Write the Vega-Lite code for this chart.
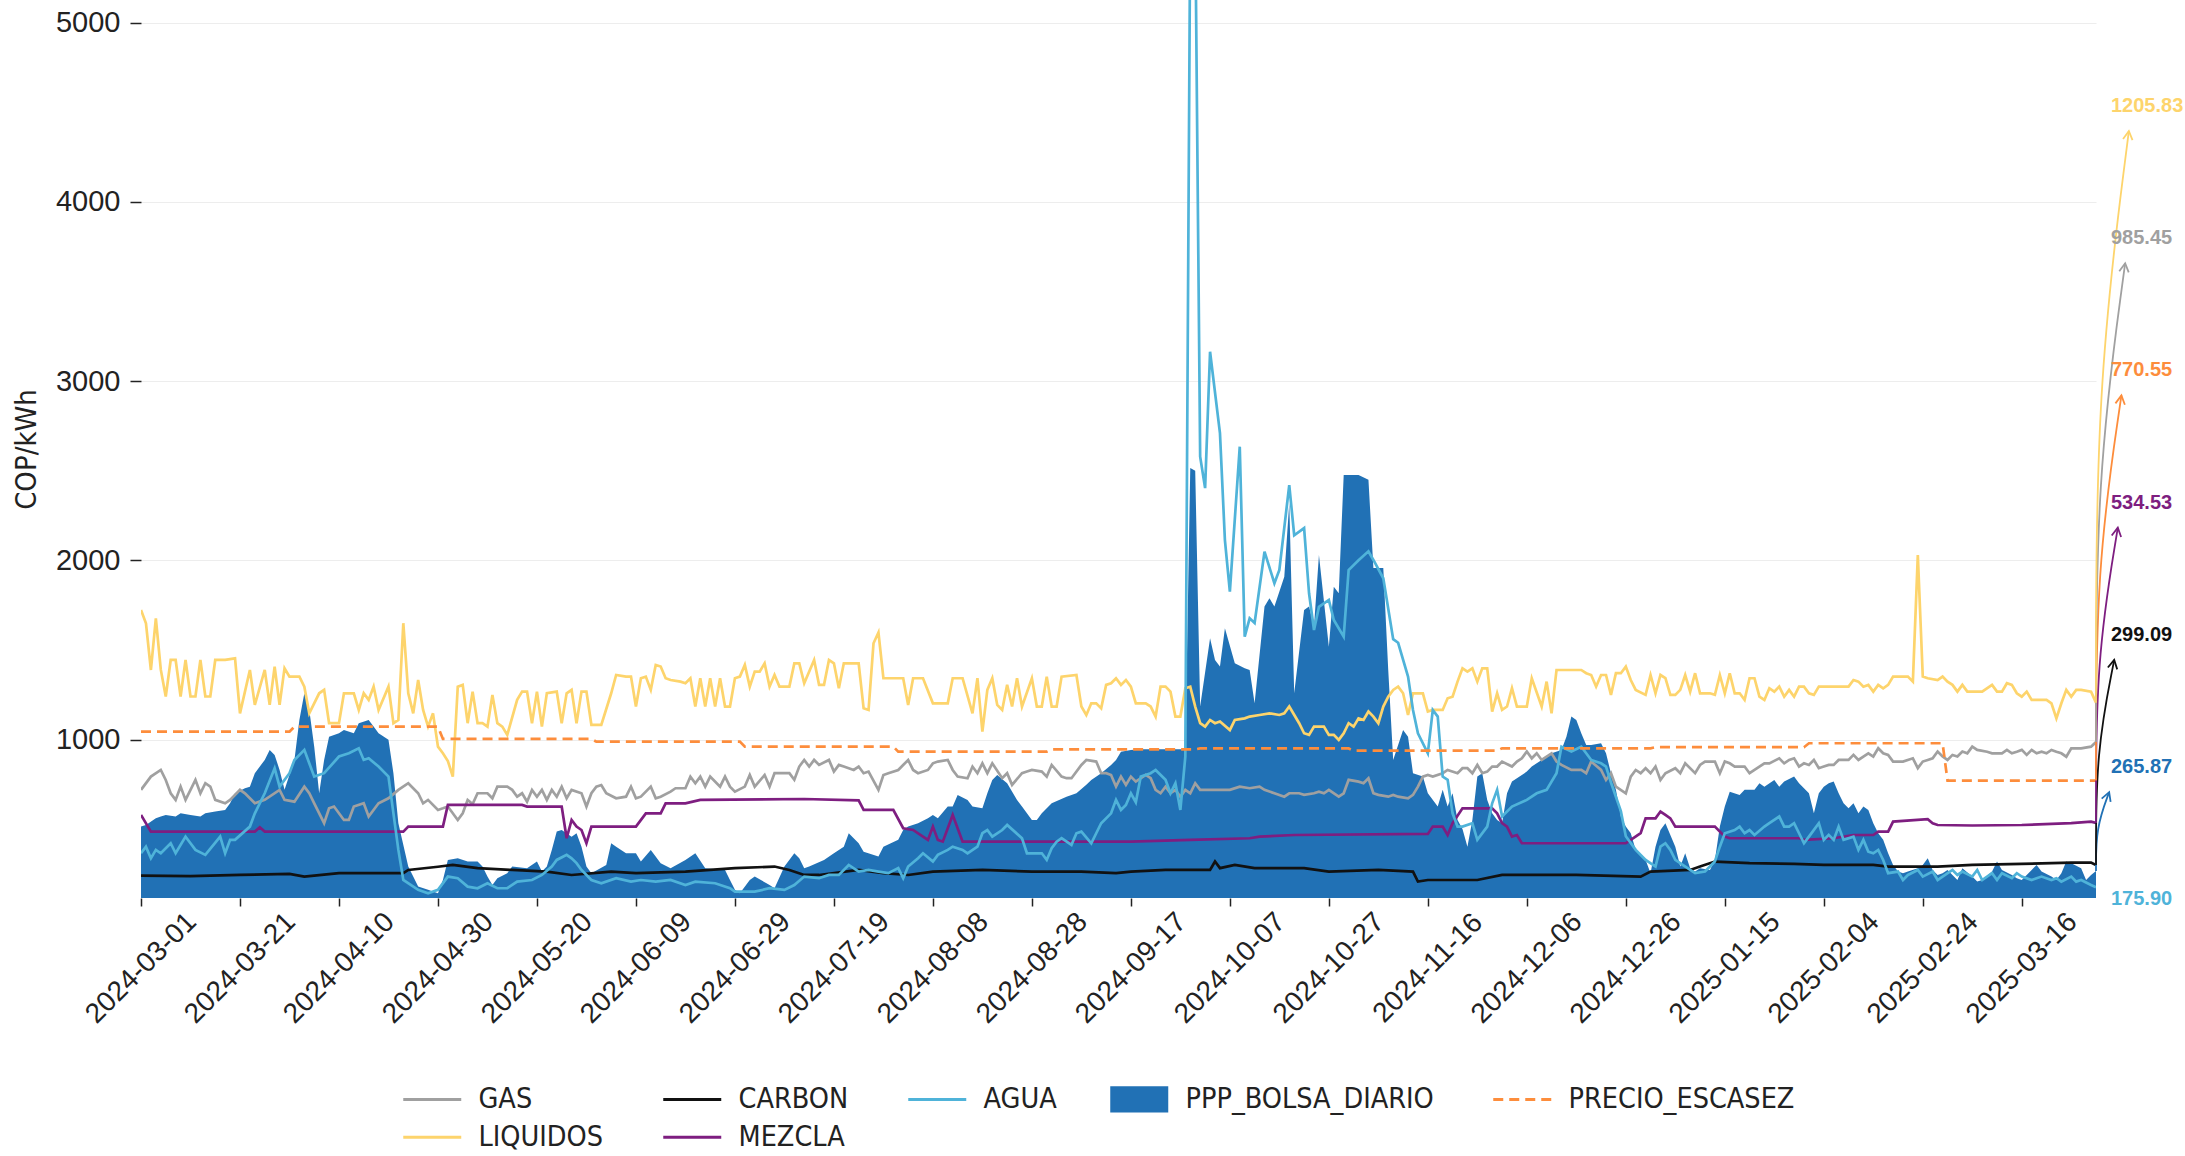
{
"$schema":"https://vega.github.io/schema/vega-lite/v6.json",
"width":1955,"height":898,
"autosize":{"type":"none"},
"padding":{"left":141,"top":0,"right":89,"bottom":258},
"background":"white",
"config":{"view":{"stroke":null},"font":"Liberation Sans"},
"datasets":{
"ppp":[{"d":"2024-03-01","v":514},{"d":"2024-03-02","v":523},{"d":"2024-03-04","v":560},{"d":"2024-03-05","v":570},{"d":"2024-03-06","v":579},{"d":"2024-03-08","v":570},{"d":"2024-03-09","v":588},{"d":"2024-03-11","v":579},{"d":"2024-03-13","v":570},{"d":"2024-03-14","v":588},{"d":"2024-03-16","v":598},{"d":"2024-03-18","v":607},{"d":"2024-03-19","v":644},{"d":"2024-03-20","v":700},{"d":"2024-03-22","v":728},{"d":"2024-03-23","v":737},{"d":"2024-03-24","v":812},{"d":"2024-03-26","v":886},{"d":"2024-03-27","v":942},{"d":"2024-03-28","v":914},{"d":"2024-03-29","v":830},{"d":"2024-03-30","v":719},{"d":"2024-04-01","v":886},{"d":"2024-04-02","v":1109},{"d":"2024-04-03","v":1258},{"d":"2024-04-04","v":1165},{"d":"2024-04-05","v":960},{"d":"2024-04-06","v":700},{"d":"2024-04-07","v":886},{"d":"2024-04-08","v":1016},{"d":"2024-04-10","v":1035},{"d":"2024-04-11","v":1053},{"d":"2024-04-13","v":1035},{"d":"2024-04-14","v":1091},{"d":"2024-04-16","v":1109},{"d":"2024-04-17","v":1072},{"d":"2024-04-18","v":1035},{"d":"2024-04-20","v":998},{"d":"2024-04-21","v":812},{"d":"2024-04-22","v":533},{"d":"2024-04-24","v":291},{"d":"2024-04-26","v":179},{"d":"2024-04-28","v":161},{"d":"2024-04-30","v":142},{"d":"2024-05-01","v":216},{"d":"2024-05-02","v":328},{"d":"2024-05-04","v":337},{"d":"2024-05-06","v":319},{"d":"2024-05-08","v":319},{"d":"2024-05-09","v":291},{"d":"2024-05-10","v":235},{"d":"2024-05-11","v":188},{"d":"2024-05-12","v":226},{"d":"2024-05-14","v":254},{"d":"2024-05-15","v":291},{"d":"2024-05-18","v":282},{"d":"2024-05-20","v":319},{"d":"2024-05-21","v":263},{"d":"2024-05-22","v":291},{"d":"2024-05-23","v":384},{"d":"2024-05-24","v":486},{"d":"2024-05-25","v":495},{"d":"2024-05-27","v":458},{"d":"2024-05-28","v":477},{"d":"2024-05-29","v":402},{"d":"2024-05-30","v":291},{"d":"2024-05-31","v":254},{"d":"2024-06-03","v":300},{"d":"2024-06-04","v":421},{"d":"2024-06-05","v":402},{"d":"2024-06-07","v":365},{"d":"2024-06-09","v":365},{"d":"2024-06-10","v":319},{"d":"2024-06-12","v":384},{"d":"2024-06-14","v":310},{"d":"2024-06-16","v":282},{"d":"2024-06-19","v":328},{"d":"2024-06-21","v":365},{"d":"2024-06-23","v":282},{"d":"2024-06-27","v":272},{"d":"2024-06-28","v":216},{"d":"2024-06-29","v":161},{"d":"2024-06-30","v":142},{"d":"2024-07-02","v":216},{"d":"2024-07-03","v":235},{"d":"2024-07-06","v":188},{"d":"2024-07-07","v":170},{"d":"2024-07-09","v":291},{"d":"2024-07-11","v":365},{"d":"2024-07-12","v":337},{"d":"2024-07-13","v":282},{"d":"2024-07-14","v":291},{"d":"2024-07-17","v":328},{"d":"2024-07-19","v":365},{"d":"2024-07-21","v":402},{"d":"2024-07-22","v":477},{"d":"2024-07-24","v":421},{"d":"2024-07-25","v":374},{"d":"2024-07-28","v":347},{"d":"2024-07-29","v":402},{"d":"2024-08-01","v":440},{"d":"2024-08-02","v":495},{"d":"2024-08-03","v":514},{"d":"2024-08-05","v":533},{"d":"2024-08-07","v":560},{"d":"2024-08-08","v":579},{"d":"2024-08-09","v":560},{"d":"2024-08-11","v":626},{"d":"2024-08-12","v":626},{"d":"2024-08-13","v":691},{"d":"2024-08-15","v":663},{"d":"2024-08-16","v":626},{"d":"2024-08-18","v":616},{"d":"2024-08-19","v":700},{"d":"2024-08-20","v":774},{"d":"2024-08-21","v":802},{"d":"2024-08-23","v":756},{"d":"2024-08-25","v":663},{"d":"2024-08-26","v":626},{"d":"2024-08-28","v":551},{"d":"2024-08-29","v":551},{"d":"2024-08-30","v":588},{"d":"2024-09-01","v":644},{"d":"2024-09-04","v":681},{"d":"2024-09-06","v":700},{"d":"2024-09-08","v":747},{"d":"2024-09-09","v":774},{"d":"2024-09-11","v":812},{"d":"2024-09-13","v":858},{"d":"2024-09-14","v":886},{"d":"2024-09-15","v":932},{"d":"2024-09-17","v":942},{"d":"2024-09-19","v":945},{"d":"2024-09-21","v":945},{"d":"2024-09-24","v":945},{"d":"2024-09-28","v":945},{"d":"2024-09-29","v":2515},{"d":"2024-09-30","v":2500},{"d":"2024-10-01","v":1184},{"d":"2024-10-03","v":1565},{"d":"2024-10-04","v":1444},{"d":"2024-10-05","v":1407},{"d":"2024-10-06","v":1621},{"d":"2024-10-08","v":1425},{"d":"2024-10-10","v":1397},{"d":"2024-10-11","v":1388},{"d":"2024-10-12","v":1202},{"d":"2024-10-14","v":1742},{"d":"2024-10-15","v":1788},{"d":"2024-10-16","v":1742},{"d":"2024-10-18","v":1909},{"d":"2024-10-19","v":2320},{"d":"2024-10-20","v":1258},{"d":"2024-10-22","v":1723},{"d":"2024-10-23","v":1742},{"d":"2024-10-24","v":1630},{"d":"2024-10-25","v":2030},{"d":"2024-10-27","v":1518},{"d":"2024-10-28","v":1853},{"d":"2024-10-29","v":1816},{"d":"2024-10-30","v":2476},{"d":"2024-11-02","v":2476},{"d":"2024-11-04","v":2450},{"d":"2024-11-05","v":1957},{"d":"2024-11-07","v":1957},{"d":"2024-11-08","v":1388},{"d":"2024-11-09","v":886},{"d":"2024-11-11","v":1053},{"d":"2024-11-12","v":1016},{"d":"2024-11-13","v":812},{"d":"2024-11-15","v":793},{"d":"2024-11-16","v":700},{"d":"2024-11-18","v":626},{"d":"2024-11-19","v":719},{"d":"2024-11-20","v":626},{"d":"2024-11-21","v":700},{"d":"2024-11-22","v":551},{"d":"2024-11-23","v":500},{"d":"2024-11-24","v":402},{"d":"2024-11-25","v":551},{"d":"2024-11-26","v":793},{"d":"2024-11-27","v":812},{"d":"2024-11-28","v":663},{"d":"2024-11-29","v":588},{"d":"2024-11-30","v":551},{"d":"2024-12-01","v":533},{"d":"2024-12-02","v":700},{"d":"2024-12-03","v":765},{"d":"2024-12-05","v":802},{"d":"2024-12-06","v":821},{"d":"2024-12-07","v":849},{"d":"2024-12-09","v":886},{"d":"2024-12-10","v":905},{"d":"2024-12-11","v":923},{"d":"2024-12-13","v":942},{"d":"2024-12-14","v":1016},{"d":"2024-12-15","v":1128},{"d":"2024-12-16","v":1109},{"d":"2024-12-17","v":1035},{"d":"2024-12-18","v":970},{"d":"2024-12-19","v":970},{"d":"2024-12-21","v":979},{"d":"2024-12-22","v":923},{"d":"2024-12-23","v":812},{"d":"2024-12-24","v":719},{"d":"2024-12-25","v":570},{"d":"2024-12-26","v":514},{"d":"2024-12-27","v":477},{"d":"2024-12-28","v":384},{"d":"2024-12-30","v":328},{"d":"2024-12-31","v":254},{"d":"2025-01-01","v":402},{"d":"2025-01-02","v":495},{"d":"2025-01-03","v":533},{"d":"2025-01-05","v":402},{"d":"2025-01-06","v":291},{"d":"2025-01-07","v":365},{"d":"2025-01-08","v":282},{"d":"2025-01-09","v":263},{"d":"2025-01-10","v":282},{"d":"2025-01-12","v":272},{"d":"2025-01-13","v":328},{"d":"2025-01-14","v":514},{"d":"2025-01-15","v":626},{"d":"2025-01-16","v":709},{"d":"2025-01-18","v":691},{"d":"2025-01-19","v":719},{"d":"2025-01-21","v":719},{"d":"2025-01-22","v":756},{"d":"2025-01-23","v":737},{"d":"2025-01-25","v":774},{"d":"2025-01-26","v":737},{"d":"2025-01-27","v":765},{"d":"2025-01-29","v":793},{"d":"2025-01-30","v":756},{"d":"2025-02-01","v":700},{"d":"2025-02-02","v":588},{"d":"2025-02-03","v":700},{"d":"2025-02-04","v":737},{"d":"2025-02-05","v":756},{"d":"2025-02-06","v":765},{"d":"2025-02-07","v":700},{"d":"2025-02-08","v":644},{"d":"2025-02-09","v":616},{"d":"2025-02-10","v":644},{"d":"2025-02-11","v":588},{"d":"2025-02-12","v":626},{"d":"2025-02-13","v":607},{"d":"2025-02-14","v":533},{"d":"2025-02-15","v":477},{"d":"2025-02-16","v":440},{"d":"2025-02-17","v":365},{"d":"2025-02-18","v":300},{"d":"2025-02-19","v":263},{"d":"2025-02-20","v":254},{"d":"2025-02-21","v":263},{"d":"2025-02-23","v":282},{"d":"2025-02-24","v":300},{"d":"2025-02-25","v":337},{"d":"2025-02-26","v":272},{"d":"2025-02-27","v":244},{"d":"2025-02-28","v":254},{"d":"2025-03-01","v":272},{"d":"2025-03-03","v":216},{"d":"2025-03-04","v":282},{"d":"2025-03-06","v":235},{"d":"2025-03-07","v":207},{"d":"2025-03-08","v":216},{"d":"2025-03-10","v":263},{"d":"2025-03-11","v":319},{"d":"2025-03-12","v":272},{"d":"2025-03-14","v":244},{"d":"2025-03-15","v":226},{"d":"2025-03-16","v":216},{"d":"2025-03-18","v":272},{"d":"2025-03-19","v":300},{"d":"2025-03-20","v":263},{"d":"2025-03-22","v":235},{"d":"2025-03-23","v":216},{"d":"2025-03-24","v":254},{"d":"2025-03-25","v":319},{"d":"2025-03-26","v":310},{"d":"2025-03-28","v":282},{"d":"2025-03-29","v":216},{"d":"2025-03-30","v":244},{"d":"2025-03-31","v":265.87}],
"agua":[{"d":"2024-03-01","v":365},{"d":"2024-03-02","v":402},{"d":"2024-03-03","v":337},{"d":"2024-03-04","v":384},{"d":"2024-03-05","v":365},{"d":"2024-03-07","v":421},{"d":"2024-03-08","v":365},{"d":"2024-03-10","v":458},{"d":"2024-03-11","v":421},{"d":"2024-03-12","v":384},{"d":"2024-03-14","v":356},{"d":"2024-03-17","v":458},{"d":"2024-03-18","v":365},{"d":"2024-03-19","v":440},{"d":"2024-03-20","v":440},{"d":"2024-03-23","v":514},{"d":"2024-03-24","v":588},{"d":"2024-03-26","v":700},{"d":"2024-03-28","v":839},{"d":"2024-03-29","v":737},{"d":"2024-03-31","v":812},{"d":"2024-04-01","v":886},{"d":"2024-04-03","v":942},{"d":"2024-04-04","v":867},{"d":"2024-04-05","v":793},{"d":"2024-04-07","v":812},{"d":"2024-04-10","v":905},{"d":"2024-04-12","v":923},{"d":"2024-04-14","v":951},{"d":"2024-04-15","v":886},{"d":"2024-04-16","v":895},{"d":"2024-04-18","v":849},{"d":"2024-04-20","v":793},{"d":"2024-04-22","v":384},{"d":"2024-04-23","v":216},{"d":"2024-04-26","v":161},{"d":"2024-04-28","v":142},{"d":"2024-04-30","v":161},{"d":"2024-05-02","v":235},{"d":"2024-05-04","v":226},{"d":"2024-05-06","v":179},{"d":"2024-05-08","v":170},{"d":"2024-05-10","v":198},{"d":"2024-05-12","v":170},{"d":"2024-05-14","v":170},{"d":"2024-05-16","v":207},{"d":"2024-05-19","v":216},{"d":"2024-05-21","v":244},{"d":"2024-05-23","v":291},{"d":"2024-05-24","v":328},{"d":"2024-05-26","v":356},{"d":"2024-05-27","v":337},{"d":"2024-05-28","v":310},{"d":"2024-05-29","v":272},{"d":"2024-05-31","v":216},{"d":"2024-06-02","v":198},{"d":"2024-06-05","v":226},{"d":"2024-06-08","v":207},{"d":"2024-06-10","v":216},{"d":"2024-06-13","v":207},{"d":"2024-06-16","v":216},{"d":"2024-06-19","v":188},{"d":"2024-06-21","v":207},{"d":"2024-06-25","v":198},{"d":"2024-06-28","v":170},{"d":"2024-06-29","v":151},{"d":"2024-07-03","v":151},{"d":"2024-07-06","v":170},{"d":"2024-07-09","v":161},{"d":"2024-07-11","v":188},{"d":"2024-07-13","v":235},{"d":"2024-07-16","v":226},{"d":"2024-07-18","v":244},{"d":"2024-07-20","v":244},{"d":"2024-07-22","v":300},{"d":"2024-07-24","v":263},{"d":"2024-07-26","v":272},{"d":"2024-07-28","v":263},{"d":"2024-07-30","v":254},{"d":"2024-08-01","v":282},{"d":"2024-08-02","v":226},{"d":"2024-08-03","v":291},{"d":"2024-08-05","v":337},{"d":"2024-08-06","v":365},{"d":"2024-08-08","v":319},{"d":"2024-08-09","v":356},{"d":"2024-08-11","v":384},{"d":"2024-08-12","v":402},{"d":"2024-08-14","v":384},{"d":"2024-08-15","v":365},{"d":"2024-08-17","v":402},{"d":"2024-08-18","v":477},{"d":"2024-08-19","v":495},{"d":"2024-08-20","v":458},{"d":"2024-08-22","v":495},{"d":"2024-08-23","v":523},{"d":"2024-08-26","v":449},{"d":"2024-08-27","v":365},{"d":"2024-08-30","v":365},{"d":"2024-08-31","v":328},{"d":"2024-09-01","v":393},{"d":"2024-09-02","v":430},{"d":"2024-09-03","v":449},{"d":"2024-09-05","v":412},{"d":"2024-09-06","v":477},{"d":"2024-09-07","v":486},{"d":"2024-09-09","v":421},{"d":"2024-09-10","v":477},{"d":"2024-09-11","v":533},{"d":"2024-09-13","v":588},{"d":"2024-09-14","v":663},{"d":"2024-09-15","v":607},{"d":"2024-09-16","v":635},{"d":"2024-09-17","v":700},{"d":"2024-09-18","v":650},{"d":"2024-09-19","v":793},{"d":"2024-09-21","v":812},{"d":"2024-09-22","v":830},{"d":"2024-09-24","v":775},{"d":"2024-09-25","v":700},{"d":"2024-09-26","v":756},{"d":"2024-09-27","v":607},{"d":"2024-09-28","v":904},{"d":"2024-09-29","v":5600},{"d":"2024-09-30","v":5600},{"d":"2024-10-01","v":2578},{"d":"2024-10-02","v":2403},{"d":"2024-10-03","v":3164},{"d":"2024-10-05","v":2710},{"d":"2024-10-06","v":2113},{"d":"2024-10-07","v":1825},{"d":"2024-10-09","v":2634},{"d":"2024-10-10","v":1574},{"d":"2024-10-11","v":1676},{"d":"2024-10-12","v":1650},{"d":"2024-10-14","v":2048},{"d":"2024-10-16","v":1872},{"d":"2024-10-17","v":1946},{"d":"2024-10-19","v":2420},{"d":"2024-10-20","v":2140},{"d":"2024-10-22","v":2180},{"d":"2024-10-23","v":1816},{"d":"2024-10-24","v":1611},{"d":"2024-10-25","v":1740},{"d":"2024-10-27","v":1779},{"d":"2024-10-28","v":1667},{"d":"2024-10-30","v":1574},{"d":"2024-10-31","v":1946},{"d":"2024-11-02","v":2000},{"d":"2024-11-04","v":2050},{"d":"2024-11-05","v":2002},{"d":"2024-11-07","v":1900},{"d":"2024-11-09","v":1560},{"d":"2024-11-10","v":1540},{"d":"2024-11-12","v":1351},{"d":"2024-11-13","v":1165},{"d":"2024-11-14","v":1035},{"d":"2024-11-16","v":923},{"d":"2024-11-17","v":1165},{"d":"2024-11-18","v":1128},{"d":"2024-11-19","v":793},{"d":"2024-11-20","v":775},{"d":"2024-11-21","v":588},{"d":"2024-11-22","v":514},{"d":"2024-11-23","v":514},{"d":"2024-11-25","v":533},{"d":"2024-11-26","v":440},{"d":"2024-11-28","v":514},{"d":"2024-11-29","v":644},{"d":"2024-11-30","v":719},{"d":"2024-12-01","v":570},{"d":"2024-12-03","v":626},{"d":"2024-12-06","v":663},{"d":"2024-12-08","v":700},{"d":"2024-12-10","v":719},{"d":"2024-12-12","v":812},{"d":"2024-12-13","v":960},{"d":"2024-12-15","v":933},{"d":"2024-12-17","v":960},{"d":"2024-12-18","v":923},{"d":"2024-12-19","v":886},{"d":"2024-12-21","v":867},{"d":"2024-12-22","v":849},{"d":"2024-12-23","v":760},{"d":"2024-12-25","v":600},{"d":"2024-12-26","v":460},{"d":"2024-12-28","v":384},{"d":"2024-12-30","v":328},{"d":"2025-01-01","v":291},{"d":"2025-01-02","v":402},{"d":"2025-01-03","v":421},{"d":"2025-01-04","v":384},{"d":"2025-01-05","v":328},{"d":"2025-01-08","v":272},{"d":"2025-01-09","v":254},{"d":"2025-01-11","v":263},{"d":"2025-01-13","v":319},{"d":"2025-01-14","v":402},{"d":"2025-01-15","v":477},{"d":"2025-01-17","v":495},{"d":"2025-01-18","v":514},{"d":"2025-01-19","v":477},{"d":"2025-01-20","v":495},{"d":"2025-01-21","v":467},{"d":"2025-01-23","v":514},{"d":"2025-01-24","v":533},{"d":"2025-01-26","v":570},{"d":"2025-01-27","v":514},{"d":"2025-01-28","v":514},{"d":"2025-01-29","v":533},{"d":"2025-01-31","v":421},{"d":"2025-02-01","v":458},{"d":"2025-02-03","v":533},{"d":"2025-02-04","v":440},{"d":"2025-02-05","v":468},{"d":"2025-02-06","v":440},{"d":"2025-02-07","v":514},{"d":"2025-02-08","v":440},{"d":"2025-02-10","v":458},{"d":"2025-02-11","v":384},{"d":"2025-02-12","v":440},{"d":"2025-02-13","v":374},{"d":"2025-02-14","v":365},{"d":"2025-02-15","v":384},{"d":"2025-02-16","v":328},{"d":"2025-02-17","v":254},{"d":"2025-02-19","v":263},{"d":"2025-02-20","v":216},{"d":"2025-02-21","v":244},{"d":"2025-02-23","v":272},{"d":"2025-02-24","v":235},{"d":"2025-02-26","v":263},{"d":"2025-02-27","v":216},{"d":"2025-02-28","v":235},{"d":"2025-03-02","v":272},{"d":"2025-03-03","v":244},{"d":"2025-03-04","v":263},{"d":"2025-03-06","v":235},{"d":"2025-03-07","v":272},{"d":"2025-03-08","v":216},{"d":"2025-03-10","v":254},{"d":"2025-03-11","v":216},{"d":"2025-03-12","v":254},{"d":"2025-03-14","v":226},{"d":"2025-03-15","v":254},{"d":"2025-03-16","v":235},{"d":"2025-03-18","v":216},{"d":"2025-03-19","v":226},{"d":"2025-03-20","v":235},{"d":"2025-03-22","v":216},{"d":"2025-03-23","v":226},{"d":"2025-03-24","v":207},{"d":"2025-03-26","v":235},{"d":"2025-03-27","v":207},{"d":"2025-03-28","v":216},{"d":"2025-03-30","v":188},{"d":"2025-03-31","v":175.9}],
"gas":[{"d":"2024-03-01","v":719},{"d":"2024-03-03","v":793},{"d":"2024-03-05","v":830},{"d":"2024-03-06","v":774},{"d":"2024-03-07","v":700},{"d":"2024-03-08","v":663},{"d":"2024-03-09","v":737},{"d":"2024-03-10","v":663},{"d":"2024-03-12","v":775},{"d":"2024-03-13","v":700},{"d":"2024-03-14","v":756},{"d":"2024-03-15","v":737},{"d":"2024-03-16","v":663},{"d":"2024-03-18","v":644},{"d":"2024-03-19","v":663},{"d":"2024-03-21","v":719},{"d":"2024-03-22","v":700},{"d":"2024-03-24","v":644},{"d":"2024-03-26","v":663},{"d":"2024-03-29","v":719},{"d":"2024-03-30","v":663},{"d":"2024-04-01","v":653},{"d":"2024-04-03","v":737},{"d":"2024-04-04","v":700},{"d":"2024-04-05","v":644},{"d":"2024-04-07","v":533},{"d":"2024-04-08","v":616},{"d":"2024-04-09","v":626},{"d":"2024-04-11","v":551},{"d":"2024-04-12","v":551},{"d":"2024-04-13","v":626},{"d":"2024-04-15","v":644},{"d":"2024-04-16","v":570},{"d":"2024-04-18","v":644},{"d":"2024-04-20","v":672},{"d":"2024-04-22","v":719},{"d":"2024-04-24","v":756},{"d":"2024-04-26","v":700},{"d":"2024-04-27","v":644},{"d":"2024-04-28","v":663},{"d":"2024-04-30","v":607},{"d":"2024-05-01","v":616},{"d":"2024-05-02","v":626},{"d":"2024-05-04","v":551},{"d":"2024-05-05","v":588},{"d":"2024-05-06","v":663},{"d":"2024-05-07","v":640},{"d":"2024-05-08","v":700},{"d":"2024-05-10","v":700},{"d":"2024-05-11","v":672},{"d":"2024-05-12","v":737},{"d":"2024-05-14","v":737},{"d":"2024-05-15","v":719},{"d":"2024-05-16","v":681},{"d":"2024-05-17","v":700},{"d":"2024-05-18","v":653},{"d":"2024-05-19","v":719},{"d":"2024-05-20","v":681},{"d":"2024-05-21","v":719},{"d":"2024-05-22","v":663},{"d":"2024-05-23","v":719},{"d":"2024-05-24","v":681},{"d":"2024-05-25","v":737},{"d":"2024-05-26","v":672},{"d":"2024-05-27","v":719},{"d":"2024-05-29","v":700},{"d":"2024-05-30","v":626},{"d":"2024-05-31","v":700},{"d":"2024-06-01","v":737},{"d":"2024-06-02","v":746},{"d":"2024-06-03","v":700},{"d":"2024-06-05","v":672},{"d":"2024-06-07","v":681},{"d":"2024-06-08","v":737},{"d":"2024-06-09","v":672},{"d":"2024-06-10","v":681},{"d":"2024-06-12","v":737},{"d":"2024-06-13","v":672},{"d":"2024-06-14","v":681},{"d":"2024-06-16","v":709},{"d":"2024-06-17","v":728},{"d":"2024-06-19","v":728},{"d":"2024-06-20","v":793},{"d":"2024-06-21","v":756},{"d":"2024-06-22","v":793},{"d":"2024-06-23","v":737},{"d":"2024-06-24","v":793},{"d":"2024-06-26","v":737},{"d":"2024-06-27","v":793},{"d":"2024-06-28","v":737},{"d":"2024-06-29","v":709},{"d":"2024-07-01","v":737},{"d":"2024-07-02","v":802},{"d":"2024-07-03","v":737},{"d":"2024-07-05","v":802},{"d":"2024-07-06","v":737},{"d":"2024-07-07","v":812},{"d":"2024-07-08","v":812},{"d":"2024-07-10","v":812},{"d":"2024-07-11","v":775},{"d":"2024-07-12","v":849},{"d":"2024-07-13","v":886},{"d":"2024-07-14","v":849},{"d":"2024-07-15","v":886},{"d":"2024-07-16","v":858},{"d":"2024-07-18","v":886},{"d":"2024-07-19","v":821},{"d":"2024-07-20","v":858},{"d":"2024-07-21","v":849},{"d":"2024-07-23","v":830},{"d":"2024-07-24","v":849},{"d":"2024-07-25","v":812},{"d":"2024-07-26","v":821},{"d":"2024-07-28","v":719},{"d":"2024-07-29","v":802},{"d":"2024-07-30","v":812},{"d":"2024-08-01","v":830},{"d":"2024-08-03","v":886},{"d":"2024-08-04","v":830},{"d":"2024-08-05","v":812},{"d":"2024-08-07","v":830},{"d":"2024-08-08","v":867},{"d":"2024-08-09","v":877},{"d":"2024-08-11","v":886},{"d":"2024-08-12","v":830},{"d":"2024-08-13","v":793},{"d":"2024-08-15","v":784},{"d":"2024-08-16","v":849},{"d":"2024-08-17","v":812},{"d":"2024-08-18","v":867},{"d":"2024-08-19","v":812},{"d":"2024-08-20","v":867},{"d":"2024-08-22","v":784},{"d":"2024-08-23","v":812},{"d":"2024-08-24","v":747},{"d":"2024-08-26","v":812},{"d":"2024-08-27","v":821},{"d":"2024-08-28","v":830},{"d":"2024-08-30","v":821},{"d":"2024-08-31","v":793},{"d":"2024-09-01","v":858},{"d":"2024-09-03","v":793},{"d":"2024-09-04","v":784},{"d":"2024-09-05","v":784},{"d":"2024-09-07","v":858},{"d":"2024-09-08","v":886},{"d":"2024-09-10","v":877},{"d":"2024-09-11","v":812},{"d":"2024-09-12","v":812},{"d":"2024-09-13","v":802},{"d":"2024-09-14","v":737},{"d":"2024-09-15","v":793},{"d":"2024-09-16","v":747},{"d":"2024-09-17","v":793},{"d":"2024-09-18","v":765},{"d":"2024-09-20","v":802},{"d":"2024-09-21","v":784},{"d":"2024-09-22","v":719},{"d":"2024-09-23","v":700},{"d":"2024-09-24","v":737},{"d":"2024-09-25","v":700},{"d":"2024-09-26","v":719},{"d":"2024-09-27","v":681},{"d":"2024-09-28","v":719},{"d":"2024-09-29","v":700},{"d":"2024-09-30","v":756},{"d":"2024-10-01","v":719},{"d":"2024-10-03","v":719},{"d":"2024-10-05","v":719},{"d":"2024-10-07","v":719},{"d":"2024-10-09","v":737},{"d":"2024-10-11","v":728},{"d":"2024-10-13","v":737},{"d":"2024-10-14","v":719},{"d":"2024-10-16","v":700},{"d":"2024-10-18","v":681},{"d":"2024-10-19","v":700},{"d":"2024-10-21","v":700},{"d":"2024-10-22","v":691},{"d":"2024-10-24","v":700},{"d":"2024-10-25","v":709},{"d":"2024-10-26","v":700},{"d":"2024-10-27","v":719},{"d":"2024-10-29","v":681},{"d":"2024-10-30","v":700},{"d":"2024-10-31","v":775},{"d":"2024-11-02","v":765},{"d":"2024-11-03","v":756},{"d":"2024-11-04","v":784},{"d":"2024-11-05","v":700},{"d":"2024-11-06","v":691},{"d":"2024-11-08","v":681},{"d":"2024-11-09","v":691},{"d":"2024-11-10","v":681},{"d":"2024-11-12","v":672},{"d":"2024-11-13","v":691},{"d":"2024-11-14","v":737},{"d":"2024-11-15","v":793},{"d":"2024-11-16","v":802},{"d":"2024-11-17","v":793},{"d":"2024-11-19","v":812},{"d":"2024-11-20","v":830},{"d":"2024-11-22","v":812},{"d":"2024-11-23","v":840},{"d":"2024-11-24","v":840},{"d":"2024-11-25","v":812},{"d":"2024-11-26","v":858},{"d":"2024-11-27","v":812},{"d":"2024-11-28","v":821},{"d":"2024-11-29","v":849},{"d":"2024-11-30","v":849},{"d":"2024-12-01","v":877},{"d":"2024-12-03","v":849},{"d":"2024-12-04","v":877},{"d":"2024-12-05","v":895},{"d":"2024-12-06","v":933},{"d":"2024-12-07","v":895},{"d":"2024-12-08","v":923},{"d":"2024-12-09","v":886},{"d":"2024-12-10","v":905},{"d":"2024-12-11","v":923},{"d":"2024-12-12","v":877},{"d":"2024-12-13","v":858},{"d":"2024-12-15","v":830},{"d":"2024-12-17","v":830},{"d":"2024-12-18","v":812},{"d":"2024-12-19","v":877},{"d":"2024-12-21","v":830},{"d":"2024-12-22","v":774},{"d":"2024-12-23","v":812},{"d":"2024-12-24","v":737},{"d":"2024-12-26","v":700},{"d":"2024-12-27","v":793},{"d":"2024-12-28","v":830},{"d":"2024-12-29","v":812},{"d":"2024-12-30","v":840},{"d":"2024-12-31","v":812},{"d":"2025-01-01","v":849},{"d":"2025-01-02","v":774},{"d":"2025-01-03","v":812},{"d":"2025-01-05","v":840},{"d":"2025-01-06","v":812},{"d":"2025-01-07","v":867},{"d":"2025-01-09","v":812},{"d":"2025-01-10","v":858},{"d":"2025-01-11","v":877},{"d":"2025-01-13","v":877},{"d":"2025-01-14","v":812},{"d":"2025-01-15","v":877},{"d":"2025-01-16","v":867},{"d":"2025-01-17","v":849},{"d":"2025-01-19","v":849},{"d":"2025-01-20","v":812},{"d":"2025-01-21","v":830},{"d":"2025-01-23","v":867},{"d":"2025-01-24","v":867},{"d":"2025-01-26","v":895},{"d":"2025-01-27","v":867},{"d":"2025-01-28","v":886},{"d":"2025-01-29","v":895},{"d":"2025-01-30","v":849},{"d":"2025-01-31","v":867},{"d":"2025-02-01","v":858},{"d":"2025-02-02","v":886},{"d":"2025-02-03","v":840},{"d":"2025-02-04","v":849},{"d":"2025-02-05","v":858},{"d":"2025-02-06","v":858},{"d":"2025-02-07","v":886},{"d":"2025-02-09","v":886},{"d":"2025-02-10","v":914},{"d":"2025-02-11","v":886},{"d":"2025-02-12","v":905},{"d":"2025-02-13","v":923},{"d":"2025-02-14","v":905},{"d":"2025-02-15","v":951},{"d":"2025-02-16","v":923},{"d":"2025-02-17","v":914},{"d":"2025-02-18","v":877},{"d":"2025-02-20","v":877},{"d":"2025-02-22","v":895},{"d":"2025-02-23","v":840},{"d":"2025-02-24","v":877},{"d":"2025-02-25","v":886},{"d":"2025-02-26","v":895},{"d":"2025-02-27","v":933},{"d":"2025-02-28","v":905},{"d":"2025-03-01","v":886},{"d":"2025-03-02","v":914},{"d":"2025-03-03","v":905},{"d":"2025-03-04","v":933},{"d":"2025-03-05","v":923},{"d":"2025-03-06","v":960},{"d":"2025-03-07","v":942},{"d":"2025-03-09","v":932},{"d":"2025-03-10","v":923},{"d":"2025-03-12","v":923},{"d":"2025-03-13","v":942},{"d":"2025-03-14","v":923},{"d":"2025-03-15","v":932},{"d":"2025-03-16","v":942},{"d":"2025-03-17","v":914},{"d":"2025-03-18","v":942},{"d":"2025-03-19","v":923},{"d":"2025-03-20","v":932},{"d":"2025-03-21","v":923},{"d":"2025-03-22","v":942},{"d":"2025-03-23","v":932},{"d":"2025-03-24","v":923},{"d":"2025-03-25","v":904},{"d":"2025-03-26","v":951},{"d":"2025-03-28","v":951},{"d":"2025-03-30","v":960},{"d":"2025-03-31","v":985.45}],
"liq":[{"d":"2024-03-01","v":1723},{"d":"2024-03-02","v":1649},{"d":"2024-03-03","v":1388},{"d":"2024-03-04","v":1676},{"d":"2024-03-05","v":1390},{"d":"2024-03-06","v":1240},{"d":"2024-03-07","v":1444},{"d":"2024-03-08","v":1444},{"d":"2024-03-09","v":1240},{"d":"2024-03-10","v":1444},{"d":"2024-03-11","v":1240},{"d":"2024-03-12","v":1240},{"d":"2024-03-13","v":1444},{"d":"2024-03-14","v":1240},{"d":"2024-03-15","v":1240},{"d":"2024-03-16","v":1444},{"d":"2024-03-18","v":1444},{"d":"2024-03-20","v":1453},{"d":"2024-03-21","v":1146},{"d":"2024-03-23","v":1388},{"d":"2024-03-24","v":1193},{"d":"2024-03-26","v":1388},{"d":"2024-03-27","v":1193},{"d":"2024-03-28","v":1407},{"d":"2024-03-29","v":1193},{"d":"2024-03-30","v":1398},{"d":"2024-03-31","v":1351},{"d":"2024-04-02","v":1351},{"d":"2024-04-03","v":1295},{"d":"2024-04-04","v":1146},{"d":"2024-04-06","v":1258},{"d":"2024-04-07","v":1277},{"d":"2024-04-08","v":1091},{"d":"2024-04-10","v":1091},{"d":"2024-04-11","v":1258},{"d":"2024-04-13","v":1258},{"d":"2024-04-14","v":1165},{"d":"2024-04-15","v":1258},{"d":"2024-04-16","v":1221},{"d":"2024-04-17","v":1295},{"d":"2024-04-18","v":1165},{"d":"2024-04-20","v":1295},{"d":"2024-04-21","v":1091},{"d":"2024-04-22","v":1109},{"d":"2024-04-23","v":1649},{"d":"2024-04-24","v":1258},{"d":"2024-04-25","v":1146},{"d":"2024-04-26","v":1332},{"d":"2024-04-27","v":1165},{"d":"2024-04-28","v":1072},{"d":"2024-04-29","v":1146},{"d":"2024-04-30","v":960},{"d":"2024-05-01","v":923},{"d":"2024-05-02","v":880},{"d":"2024-05-03","v":793},{"d":"2024-05-04","v":1295},{"d":"2024-05-05","v":1305},{"d":"2024-05-06","v":1091},{"d":"2024-05-07","v":1267},{"d":"2024-05-08","v":1091},{"d":"2024-05-09","v":1091},{"d":"2024-05-10","v":1072},{"d":"2024-05-11","v":1249},{"d":"2024-05-12","v":1091},{"d":"2024-05-13","v":1072},{"d":"2024-05-14","v":1026},{"d":"2024-05-16","v":1221},{"d":"2024-05-17","v":1267},{"d":"2024-05-18","v":1267},{"d":"2024-05-19","v":1091},{"d":"2024-05-20","v":1267},{"d":"2024-05-21","v":1072},{"d":"2024-05-22","v":1258},{"d":"2024-05-24","v":1267},{"d":"2024-05-25","v":1091},{"d":"2024-05-26","v":1258},{"d":"2024-05-27","v":1277},{"d":"2024-05-28","v":1091},{"d":"2024-05-29","v":1267},{"d":"2024-05-30","v":1267},{"d":"2024-05-31","v":1082},{"d":"2024-06-02","v":1082},{"d":"2024-06-04","v":1258},{"d":"2024-06-05","v":1360},{"d":"2024-06-07","v":1351},{"d":"2024-06-08","v":1351},{"d":"2024-06-09","v":1184},{"d":"2024-06-10","v":1342},{"d":"2024-06-11","v":1351},{"d":"2024-06-12","v":1277},{"d":"2024-06-13","v":1416},{"d":"2024-06-14","v":1407},{"d":"2024-06-15","v":1342},{"d":"2024-06-16","v":1332},{"d":"2024-06-18","v":1323},{"d":"2024-06-19","v":1314},{"d":"2024-06-20","v":1342},{"d":"2024-06-21","v":1184},{"d":"2024-06-22","v":1342},{"d":"2024-06-23","v":1184},{"d":"2024-06-24","v":1342},{"d":"2024-06-25","v":1184},{"d":"2024-06-26","v":1342},{"d":"2024-06-27","v":1184},{"d":"2024-06-28","v":1184},{"d":"2024-06-29","v":1342},{"d":"2024-06-30","v":1351},{"d":"2024-07-01","v":1416},{"d":"2024-07-02","v":1295},{"d":"2024-07-03","v":1379},{"d":"2024-07-04","v":1379},{"d":"2024-07-05","v":1425},{"d":"2024-07-06","v":1295},{"d":"2024-07-07","v":1360},{"d":"2024-07-08","v":1295},{"d":"2024-07-10","v":1295},{"d":"2024-07-11","v":1425},{"d":"2024-07-12","v":1425},{"d":"2024-07-13","v":1314},{"d":"2024-07-15","v":1444},{"d":"2024-07-16","v":1305},{"d":"2024-07-17","v":1305},{"d":"2024-07-18","v":1444},{"d":"2024-07-19","v":1425},{"d":"2024-07-20","v":1286},{"d":"2024-07-21","v":1425},{"d":"2024-07-24","v":1425},{"d":"2024-07-25","v":1174},{"d":"2024-07-26","v":1165},{"d":"2024-07-27","v":1537},{"d":"2024-07-28","v":1597},{"d":"2024-07-29","v":1342},{"d":"2024-07-31","v":1342},{"d":"2024-08-02","v":1342},{"d":"2024-08-03","v":1193},{"d":"2024-08-04","v":1342},{"d":"2024-08-06","v":1342},{"d":"2024-08-08","v":1202},{"d":"2024-08-11","v":1202},{"d":"2024-08-12","v":1342},{"d":"2024-08-14","v":1342},{"d":"2024-08-16","v":1146},{"d":"2024-08-17","v":1342},{"d":"2024-08-18","v":1044},{"d":"2024-08-19","v":1277},{"d":"2024-08-20","v":1342},{"d":"2024-08-21","v":1193},{"d":"2024-08-22","v":1165},{"d":"2024-08-23","v":1305},{"d":"2024-08-24","v":1184},{"d":"2024-08-25","v":1342},{"d":"2024-08-26","v":1184},{"d":"2024-08-28","v":1342},{"d":"2024-08-29","v":1184},{"d":"2024-08-30","v":1184},{"d":"2024-08-31","v":1351},{"d":"2024-09-01","v":1184},{"d":"2024-09-02","v":1184},{"d":"2024-09-03","v":1351},{"d":"2024-09-06","v":1360},{"d":"2024-09-07","v":1184},{"d":"2024-09-08","v":1137},{"d":"2024-09-09","v":1202},{"d":"2024-09-10","v":1202},{"d":"2024-09-11","v":1174},{"d":"2024-09-12","v":1305},{"d":"2024-09-13","v":1314},{"d":"2024-09-14","v":1342},{"d":"2024-09-15","v":1305},{"d":"2024-09-16","v":1332},{"d":"2024-09-17","v":1295},{"d":"2024-09-18","v":1202},{"d":"2024-09-20","v":1202},{"d":"2024-09-21","v":1184},{"d":"2024-09-22","v":1128},{"d":"2024-09-23","v":1295},{"d":"2024-09-24","v":1295},{"d":"2024-09-25","v":1267},{"d":"2024-09-26","v":1128},{"d":"2024-09-27","v":1128},{"d":"2024-09-28","v":1286},{"d":"2024-09-29","v":1295},{"d":"2024-09-30","v":1184},{"d":"2024-10-01","v":1091},{"d":"2024-10-02","v":1072},{"d":"2024-10-03","v":1109},{"d":"2024-10-04","v":1091},{"d":"2024-10-05","v":1100},{"d":"2024-10-07","v":1053},{"d":"2024-10-08","v":1109},{"d":"2024-10-10","v":1118},{"d":"2024-10-11","v":1128},{"d":"2024-10-13","v":1137},{"d":"2024-10-15","v":1146},{"d":"2024-10-17","v":1137},{"d":"2024-10-18","v":1146},{"d":"2024-10-19","v":1184},{"d":"2024-10-21","v":1091},{"d":"2024-10-22","v":1035},{"d":"2024-10-23","v":1026},{"d":"2024-10-24","v":1072},{"d":"2024-10-26","v":1072},{"d":"2024-10-27","v":1026},{"d":"2024-10-28","v":1026},{"d":"2024-10-29","v":998},{"d":"2024-10-30","v":1035},{"d":"2024-10-31","v":1091},{"d":"2024-11-01","v":1072},{"d":"2024-11-02","v":1118},{"d":"2024-11-03","v":1109},{"d":"2024-11-04","v":1156},{"d":"2024-11-05","v":1128},{"d":"2024-11-06","v":1091},{"d":"2024-11-07","v":1184},{"d":"2024-11-08","v":1239},{"d":"2024-11-09","v":1277},{"d":"2024-11-10","v":1295},{"d":"2024-11-11","v":1258},{"d":"2024-11-12","v":1137},{"d":"2024-11-13","v":1258},{"d":"2024-11-15","v":1258},{"d":"2024-11-16","v":1156},{"d":"2024-11-17","v":1165},{"d":"2024-11-19","v":1165},{"d":"2024-11-20","v":1230},{"d":"2024-11-21","v":1239},{"d":"2024-11-22","v":1323},{"d":"2024-11-23","v":1397},{"d":"2024-11-24","v":1379},{"d":"2024-11-25","v":1397},{"d":"2024-11-26","v":1323},{"d":"2024-11-27","v":1397},{"d":"2024-11-28","v":1397},{"d":"2024-11-29","v":1156},{"d":"2024-11-30","v":1258},{"d":"2024-12-01","v":1165},{"d":"2024-12-02","v":1184},{"d":"2024-12-03","v":1286},{"d":"2024-12-04","v":1184},{"d":"2024-12-06","v":1184},{"d":"2024-12-07","v":1342},{"d":"2024-12-09","v":1184},{"d":"2024-12-10","v":1323},{"d":"2024-12-11","v":1146},{"d":"2024-12-12","v":1388},{"d":"2024-12-15","v":1388},{"d":"2024-12-17","v":1388},{"d":"2024-12-18","v":1370},{"d":"2024-12-19","v":1360},{"d":"2024-12-20","v":1295},{"d":"2024-12-21","v":1360},{"d":"2024-12-22","v":1360},{"d":"2024-12-23","v":1249},{"d":"2024-12-24","v":1370},{"d":"2024-12-25","v":1370},{"d":"2024-12-26","v":1407},{"d":"2024-12-27","v":1332},{"d":"2024-12-28","v":1277},{"d":"2024-12-30","v":1249},{"d":"2024-12-31","v":1360},{"d":"2025-01-01","v":1258},{"d":"2025-01-02","v":1360},{"d":"2025-01-03","v":1342},{"d":"2025-01-04","v":1249},{"d":"2025-01-05","v":1249},{"d":"2025-01-06","v":1277},{"d":"2025-01-07","v":1360},{"d":"2025-01-08","v":1267},{"d":"2025-01-09","v":1370},{"d":"2025-01-10","v":1258},{"d":"2025-01-12","v":1258},{"d":"2025-01-13","v":1249},{"d":"2025-01-14","v":1360},{"d":"2025-01-15","v":1258},{"d":"2025-01-16","v":1370},{"d":"2025-01-17","v":1258},{"d":"2025-01-18","v":1258},{"d":"2025-01-19","v":1221},{"d":"2025-01-20","v":1342},{"d":"2025-01-21","v":1342},{"d":"2025-01-22","v":1239},{"d":"2025-01-23","v":1221},{"d":"2025-01-24","v":1286},{"d":"2025-01-25","v":1267},{"d":"2025-01-26","v":1295},{"d":"2025-01-27","v":1239},{"d":"2025-01-28","v":1277},{"d":"2025-01-29","v":1239},{"d":"2025-01-30","v":1295},{"d":"2025-01-31","v":1295},{"d":"2025-02-01","v":1258},{"d":"2025-02-02","v":1249},{"d":"2025-02-03","v":1295},{"d":"2025-02-05","v":1295},{"d":"2025-02-07","v":1295},{"d":"2025-02-09","v":1295},{"d":"2025-02-10","v":1332},{"d":"2025-02-11","v":1323},{"d":"2025-02-12","v":1295},{"d":"2025-02-13","v":1305},{"d":"2025-02-14","v":1267},{"d":"2025-02-15","v":1305},{"d":"2025-02-16","v":1286},{"d":"2025-02-17","v":1305},{"d":"2025-02-18","v":1351},{"d":"2025-02-19","v":1351},{"d":"2025-02-21","v":1351},{"d":"2025-02-22","v":1323},{"d":"2025-02-23","v":2030},{"d":"2025-02-24","v":1351},{"d":"2025-02-25","v":1342},{"d":"2025-02-27","v":1332},{"d":"2025-02-28","v":1351},{"d":"2025-03-01","v":1323},{"d":"2025-03-02","v":1305},{"d":"2025-03-03","v":1267},{"d":"2025-03-04","v":1305},{"d":"2025-03-05","v":1267},{"d":"2025-03-07","v":1267},{"d":"2025-03-08","v":1267},{"d":"2025-03-10","v":1305},{"d":"2025-03-11","v":1267},{"d":"2025-03-12","v":1267},{"d":"2025-03-13","v":1314},{"d":"2025-03-14","v":1305},{"d":"2025-03-15","v":1258},{"d":"2025-03-16","v":1239},{"d":"2025-03-17","v":1267},{"d":"2025-03-18","v":1221},{"d":"2025-03-20","v":1221},{"d":"2025-03-21","v":1221},{"d":"2025-03-22","v":1202},{"d":"2025-03-23","v":1118},{"d":"2025-03-24","v":1202},{"d":"2025-03-25","v":1277},{"d":"2025-03-26","v":1239},{"d":"2025-03-27","v":1277},{"d":"2025-03-28","v":1277},{"d":"2025-03-30","v":1267},{"d":"2025-03-31","v":1205.83}],
"carbon":[{"d":"2024-03-01","v":240},{"d":"2024-03-11","v":238},{"d":"2024-03-21","v":244},{"d":"2024-03-31","v":250},{"d":"2024-04-03","v":235},{"d":"2024-04-10","v":254},{"d":"2024-04-23","v":254},{"d":"2024-04-24","v":272},{"d":"2024-04-30","v":290},{"d":"2024-05-03","v":300},{"d":"2024-05-08","v":282},{"d":"2024-05-15","v":272},{"d":"2024-05-22","v":263},{"d":"2024-05-27","v":244},{"d":"2024-06-04","v":263},{"d":"2024-06-09","v":254},{"d":"2024-06-19","v":263},{"d":"2024-06-29","v":282},{"d":"2024-07-07","v":291},{"d":"2024-07-10","v":272},{"d":"2024-07-13","v":244},{"d":"2024-07-16","v":244},{"d":"2024-07-24","v":272},{"d":"2024-07-29","v":254},{"d":"2024-08-03","v":244},{"d":"2024-08-08","v":263},{"d":"2024-08-18","v":272},{"d":"2024-08-28","v":263},{"d":"2024-09-07","v":263},{"d":"2024-09-14","v":254},{"d":"2024-09-17","v":263},{"d":"2024-09-24","v":272},{"d":"2024-10-03","v":272},{"d":"2024-10-04","v":319},{"d":"2024-10-05","v":282},{"d":"2024-10-08","v":300},{"d":"2024-10-12","v":282},{"d":"2024-10-22","v":282},{"d":"2024-10-27","v":263},{"d":"2024-11-06","v":272},{"d":"2024-11-13","v":263},{"d":"2024-11-14","v":207},{"d":"2024-11-16","v":216},{"d":"2024-11-26","v":216},{"d":"2024-12-01","v":244},{"d":"2024-12-16","v":244},{"d":"2024-12-29","v":235},{"d":"2024-12-31","v":263},{"d":"2025-01-08","v":272},{"d":"2025-01-10","v":291},{"d":"2025-01-13","v":319},{"d":"2025-01-20","v":310},{"d":"2025-01-29","v":306},{"d":"2025-02-04","v":300},{"d":"2025-02-14","v":300},{"d":"2025-02-17","v":291},{"d":"2025-02-27","v":291},{"d":"2025-03-06","v":300},{"d":"2025-03-16","v":306},{"d":"2025-03-26","v":313},{"d":"2025-03-30","v":313},{"d":"2025-03-31","v":299.09}],
"mezcla":[{"d":"2024-03-01","v":579},{"d":"2024-03-03","v":486},{"d":"2024-03-24","v":486},{"d":"2024-03-25","v":510},{"d":"2024-03-26","v":486},{"d":"2024-04-23","v":486},{"d":"2024-04-24","v":514},{"d":"2024-05-01","v":514},{"d":"2024-05-02","v":635},{"d":"2024-05-17","v":635},{"d":"2024-05-18","v":626},{"d":"2024-05-25","v":626},{"d":"2024-05-26","v":449},{"d":"2024-05-27","v":551},{"d":"2024-05-28","v":514},{"d":"2024-05-29","v":495},{"d":"2024-05-30","v":421},{"d":"2024-05-31","v":514},{"d":"2024-06-09","v":514},{"d":"2024-06-11","v":588},{"d":"2024-06-14","v":588},{"d":"2024-06-15","v":644},{"d":"2024-06-19","v":644},{"d":"2024-06-22","v":663},{"d":"2024-07-13","v":668},{"d":"2024-07-24","v":660},{"d":"2024-07-25","v":607},{"d":"2024-07-31","v":607},{"d":"2024-08-02","v":505},{"d":"2024-08-04","v":495},{"d":"2024-08-06","v":458},{"d":"2024-08-07","v":440},{"d":"2024-08-08","v":514},{"d":"2024-08-09","v":440},{"d":"2024-08-10","v":430},{"d":"2024-08-12","v":579},{"d":"2024-08-14","v":430},{"d":"2024-09-17","v":430},{"d":"2024-09-29","v":440},{"d":"2024-10-11","v":449},{"d":"2024-10-13","v":458},{"d":"2024-10-20","v":467},{"d":"2024-11-16","v":473},{"d":"2024-11-17","v":514},{"d":"2024-11-19","v":514},{"d":"2024-11-20","v":467},{"d":"2024-11-21","v":533},{"d":"2024-11-23","v":616},{"d":"2024-11-29","v":616},{"d":"2024-11-30","v":588},{"d":"2024-12-01","v":533},{"d":"2024-12-02","v":514},{"d":"2024-12-03","v":458},{"d":"2024-12-04","v":467},{"d":"2024-12-05","v":421},{"d":"2024-12-26","v":421},{"d":"2024-12-27","v":440},{"d":"2024-12-29","v":477},{"d":"2024-12-30","v":560},{"d":"2025-01-01","v":560},{"d":"2025-01-02","v":598},{"d":"2025-01-03","v":579},{"d":"2025-01-04","v":560},{"d":"2025-01-05","v":514},{"d":"2025-01-13","v":514},{"d":"2025-01-15","v":458},{"d":"2025-01-16","v":449},{"d":"2025-01-30","v":449},{"d":"2025-01-31","v":440},{"d":"2025-02-06","v":449},{"d":"2025-02-10","v":467},{"d":"2025-02-14","v":467},{"d":"2025-02-15","v":486},{"d":"2025-02-17","v":486},{"d":"2025-02-18","v":542},{"d":"2025-02-25","v":555},{"d":"2025-02-26","v":533},{"d":"2025-02-27","v":523},{"d":"2025-03-06","v":520},{"d":"2025-03-16","v":523},{"d":"2025-03-26","v":533},{"d":"2025-03-30","v":542},{"d":"2025-03-31","v":534.53}],
"esc":[{"d":"2024-03-01","v":1044},{"d":"2024-03-31","v":1044},{"d":"2024-04-01","v":1072},{"d":"2024-04-30","v":1072},{"d":"2024-05-01","v":1003},{"d":"2024-05-31","v":1003},{"d":"2024-06-01","v":988},{"d":"2024-06-30","v":988},{"d":"2024-07-01","v":960},{"d":"2024-07-31","v":960},{"d":"2024-08-01","v":932},{"d":"2024-08-31","v":932},{"d":"2024-09-01","v":945},{"d":"2024-09-30","v":945},{"d":"2024-10-01","v":950},{"d":"2024-10-31","v":950},{"d":"2024-11-01","v":938},{"d":"2024-11-30","v":938},{"d":"2024-12-01","v":951},{"d":"2024-12-31","v":951},{"d":"2025-01-01","v":957},{"d":"2025-01-31","v":957},{"d":"2025-02-01","v":979},{"d":"2025-02-28","v":979},{"d":"2025-03-01","v":770.55},{"d":"2025-03-31","v":770.55}],
"last":[{"s":"AGUA","d":"2025-03-31","v":175.9},{"s":"PPP_BOLSA_DIARIO","d":"2025-03-31","v":265.87},{"s":"CARBON","d":"2025-03-31","v":299.09},{"s":"MEZCLA","d":"2025-03-31","v":534.53},{"s":"PRECIO_ESCASEZ","d":"2025-03-31","v":770.55},{"s":"GAS","d":"2025-03-31","v":985.45},{"s":"LIQUIDOS","d":"2025-03-31","v":1205.83}]
},
"encoding":{
"x":{"field":"d","type":"temporal","scale":{"type":"utc","domain":[{"year":2024,"month":3,"date":1,"utc":true},{"year":2025,"month":3,"date":31,"utc":true}]},
"axis":{"title":null,"grid":false,"domain":false,"ticks":true,"tickSize":8,"tickWidth":1.5,"tickColor":"#222222","labelExpr":"utcFormat(datum.value, '%Y-%m-%d')","labelAngle":-45,"labelAlign":"center","labelBaseline":"middle","labelFontSize":28,"labelColor":"#222222","labelPadding":62,"labelOverlap":false,"labelFlush":false,"labelBound":false,
"values":[{"year":2024,"month":3,"date":1,"utc":true},{"year":2024,"month":3,"date":21,"utc":true},{"year":2024,"month":4,"date":10,"utc":true},{"year":2024,"month":4,"date":30,"utc":true},{"year":2024,"month":5,"date":20,"utc":true},{"year":2024,"month":6,"date":9,"utc":true},{"year":2024,"month":6,"date":29,"utc":true},{"year":2024,"month":7,"date":19,"utc":true},{"year":2024,"month":8,"date":8,"utc":true},{"year":2024,"month":8,"date":28,"utc":true},{"year":2024,"month":9,"date":17,"utc":true},{"year":2024,"month":10,"date":7,"utc":true},{"year":2024,"month":10,"date":27,"utc":true},{"year":2024,"month":11,"date":16,"utc":true},{"year":2024,"month":12,"date":6,"utc":true},{"year":2024,"month":12,"date":26,"utc":true},{"year":2025,"month":1,"date":15,"utc":true},{"year":2025,"month":2,"date":4,"utc":true},{"year":2025,"month":2,"date":24,"utc":true},{"year":2025,"month":3,"date":16,"utc":true}]}},
"y":{"field":"v","type":"quantitative","scale":{"domain":[115.5,5127],"nice":false,"zero":false},
"axis":{"title":"COP/kWh","titleFont":"'Liberation Sans Narrow', 'DejaVu Sans Condensed', sans-serif","titleFontSize":29,"titleFontWeight":"normal","titleColor":"#222222","titlePadding":14,"values":[1000,2000,3000,4000,5000],"format":"d","grid":true,"gridColor":"#ededed","gridWidth":1.2,"domain":false,"ticks":true,"tickSize":11,"tickWidth":1.5,"tickColor":"#222222","labelFontSize":29,"labelColor":"#222222","labelPadding":10}},
"color":{"field":"s","type":"nominal",
"scale":{"domain":["GAS","CARBON","AGUA","PPP_BOLSA_DIARIO","PRECIO_ESCASEZ","LIQUIDOS","MEZCLA"],"range":["#a0a0a0","#111111","#4fb3d9","#2171b5","#fd8d3c","#fdd46c","#7e1e80"]},
"legend":{"orient":"none","legendX":277,"legendY":1085,"direction":"horizontal","columns":5,"title":null,"padding":0,"gridAlign":"each","columnPadding":53,"rowPadding":9,"symbolType":"stroke","symbolSize":3364,"symbolStrokeWidth":3,"labelFont":"'Liberation Sans Narrow', 'DejaVu Sans Condensed', sans-serif","labelFontSize":28.5,"labelColor":"#222222","labelOffset":32,"labelLimit":500,
"encode":{"symbols":{"update":{"shape":{"signal":"datum.value === 'PPP_BOLSA_DIARIO' ? 'M-1,-0.45L1,-0.45L1,0.45L-1,0.45Z' : 'stroke'"},"fill":{"signal":"datum.value === 'PPP_BOLSA_DIARIO' ? scale('color', datum.value) : 'transparent'"},"stroke":{"signal":"scale('color', datum.value)"},"strokeDash":{"signal":"datum.value === 'PRECIO_ESCASEZ' ? [10, 6] : [1, 0]"},"strokeWidth":{"signal":"datum.value === 'PPP_BOLSA_DIARIO' ? 0 : 3"},"opacity":{"value":1}}}}}}
},
"layer":[
{"data":{"name":"ppp"},"transform":[{"calculate":"'PPP_BOLSA_DIARIO'","as":"s"}],"mark":{"type":"area","clip":true,"opacity":1},"encoding":{"y2":{"datum":0}}},
{"data":{"name":"gas"},"transform":[{"calculate":"'GAS'","as":"s"}],"mark":{"type":"line","clip":true,"strokeWidth":2.7},"encoding":{}},
{"data":{"name":"liq"},"transform":[{"calculate":"'LIQUIDOS'","as":"s"}],"mark":{"type":"line","clip":true,"strokeWidth":2.7},"encoding":{}},
{"data":{"name":"carbon"},"transform":[{"calculate":"'CARBON'","as":"s"}],"mark":{"type":"line","clip":true,"strokeWidth":2.7},"encoding":{}},
{"data":{"name":"mezcla"},"transform":[{"calculate":"'MEZCLA'","as":"s"}],"mark":{"type":"line","clip":true,"strokeWidth":2.7},"encoding":{}},
{"data":{"name":"agua"},"transform":[{"calculate":"'AGUA'","as":"s"}],"mark":{"type":"line","clip":true,"strokeWidth":2.7},"encoding":{}},
{"data":{"name":"esc"},"transform":[{"calculate":"'PRECIO_ESCASEZ'","as":"s"}],"mark":{"type":"line","clip":true,"strokeWidth":2.7,"strokeDash":[10,6]},"encoding":{}},
{"data":{"name":"last"},"transform":[
{"window":[{"op":"row_number","as":"rk"}],"sort":[{"field":"v","order":"ascending"}]},
{"filter":"datum.rk > 1"},
{"calculate":"+toDate(datum.d)","as":"t0"},
{"calculate":"108 + (datum.rk - 1) * 738 - 140","as":"tv"},
{"calculate":"(datum.tv - datum.v) * 0.1792","as":"dyp"},
{"calculate":"10 + 0.04 * datum.dyp","as":"dxp"},
{"calculate":"[{k: 0, x: datum.t0, y: datum.v}, {k: 1, x: datum.t0, y: datum.v + 0.55 * (datum.tv - datum.v)}, {k: 2, x: datum.t0 + datum.dxp / 4.949 * 86400000, y: datum.tv}]","as":"pts"},
{"flatten":["pts"]},
{"calculate":"datum.pts.x","as":"d"},
{"calculate":"datum.pts.y","as":"v"},
{"calculate":"datum.pts.k","as":"k"}],
"mark":{"type":"line","interpolate":"basis","strokeWidth":1.8},
"encoding":{"order":{"field":"k","type":"quantitative"},"detail":{"field":"s"}}},
{"data":{"name":"last"},"transform":[
{"window":[{"op":"row_number","as":"rk"}],"sort":[{"field":"v","order":"ascending"}]},
{"filter":"datum.rk > 1"},
{"calculate":"+toDate(datum.d)","as":"t0"},
{"calculate":"108 + (datum.rk - 1) * 738 - 140","as":"tv"},
{"calculate":"(datum.tv - datum.v) * 0.1792","as":"dyp"},
{"calculate":"10 + 0.04 * datum.dyp","as":"dxp"},
{"calculate":"datum.t0 + datum.dxp / 4.949 * 86400000","as":"d"},
{"calculate":"datum.tv","as":"v"},
{"calculate":"atan2(datum.dxp, 0.45 * datum.dyp) * 180 / PI","as":"ang"}],
"mark":{"type":"point","shape":"M-0.55,1L0,0L0.55,1","filled":false,"size":300,"strokeWidth":1.8,"opacity":1},
"encoding":{"angle":{"field":"ang","type":"quantitative","scale":null}}},
{"data":{"name":"last"},"transform":[
{"window":[{"op":"row_number","as":"rk"}],"sort":[{"field":"v","order":"ascending"}]},
{"calculate":"format(datum.v, '.2f')","as":"lab"},
{"calculate":"108 + (datum.rk - 1) * 738","as":"v"}],
"mark":{"type":"text","dx":15,"align":"left","baseline":"middle","fontWeight":"bold","fontSize":20,"font":"Liberation Sans"},
"encoding":{"text":{"field":"lab","type":"nominal"}}}
]
}
